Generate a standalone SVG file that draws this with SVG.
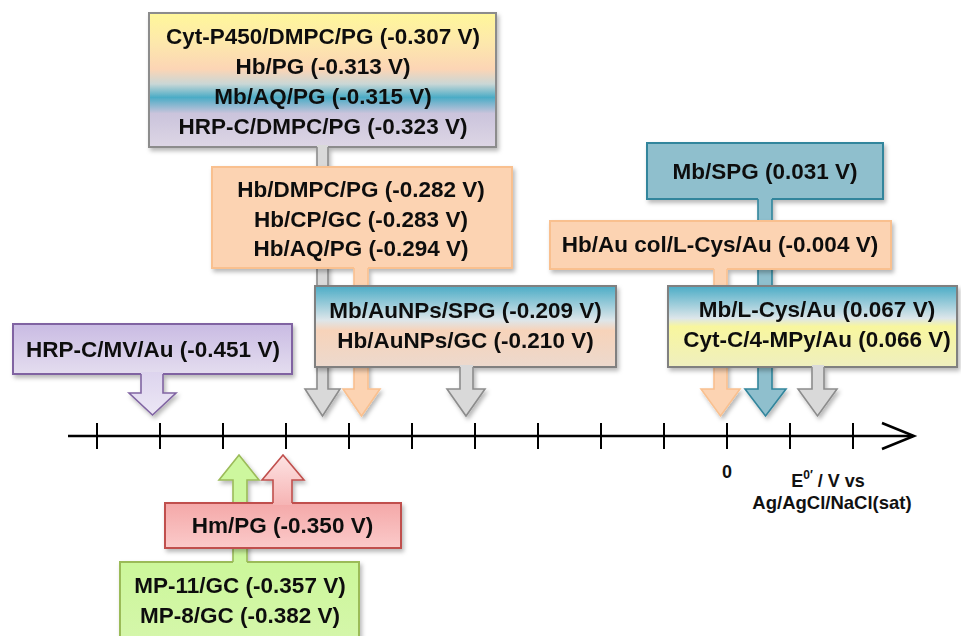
<svg xmlns="http://www.w3.org/2000/svg" width="961" height="636" viewBox="0 0 961 636">
<style>
  .lbl { font-family: "Liberation Sans", Arial, sans-serif; font-weight: bold; font-size: 22.5px; fill: #111; text-anchor: middle; }
  .ax { font-family: "Liberation Sans", Arial, sans-serif; font-weight: bold; fill: #111; text-anchor: middle; }
  .box { stroke-width: 2; }
  .edge { fill: none; stroke-width: 1.6; stroke-linejoin: miter; }
  .gray { fill: #d9d9d9; }
  .grayS { stroke: #8c8c8c; }
  .peach { fill: #fcd3b2; }
  .peachS { stroke: #f9c08f; }
</style>
<defs>
  <filter id="sh" x="-10%" y="-10%" width="125%" height="130%">
    <feDropShadow dx="2" dy="3" stdDeviation="2" flood-color="#000" flood-opacity="0.28"/>
  </filter>
  <linearGradient id="gTop" x1="0" y1="0" x2="0" y2="1">
    <stop offset="0" stop-color="#fff79a"/>
    <stop offset="0.22" stop-color="#fde8ac"/>
    <stop offset="0.42" stop-color="#fcd5b5"/>
    <stop offset="0.53" stop-color="#c9d7d6"/>
    <stop offset="0.63" stop-color="#4bacc6"/>
    <stop offset="0.75" stop-color="#cbc4dc"/>
    <stop offset="1" stop-color="#ddd6e5"/>
  </linearGradient>
  <linearGradient id="gAu" x1="0" y1="0" x2="0" y2="1">
    <stop offset="0" stop-color="#4bacc6"/>
    <stop offset="0.42" stop-color="#dde6ea"/>
    <stop offset="0.55" stop-color="#f7d3ba"/>
    <stop offset="1" stop-color="#ecd9cd"/>
  </linearGradient>
  <linearGradient id="gCys" x1="0" y1="0" x2="0" y2="1">
    <stop offset="0" stop-color="#4bacc6"/>
    <stop offset="0.4" stop-color="#dde6ea"/>
    <stop offset="0.5" stop-color="#f8f69e"/>
    <stop offset="1" stop-color="#efefbf"/>
  </linearGradient>
  <linearGradient id="gPur" x1="0" y1="0" x2="0" y2="1">
    <stop offset="0" stop-color="#c9bbe3"/>
    <stop offset="1" stop-color="#e4ddef"/>
  </linearGradient>
  <linearGradient id="gPurA" x1="0" y1="0" x2="0" y2="1">
    <stop offset="0" stop-color="#ddd4ee"/>
    <stop offset="1" stop-color="#ece7f5"/>
  </linearGradient>
  <linearGradient id="gRed" x1="0" y1="0" x2="0" y2="1">
    <stop offset="0" stop-color="#f4a8a8"/>
    <stop offset="1" stop-color="#fbcaca"/>
  </linearGradient>
  <linearGradient id="gRedA" x1="0" y1="0" x2="0" y2="1">
    <stop offset="0" stop-color="#fde3e3"/>
    <stop offset="1" stop-color="#f6b4b4"/>
  </linearGradient>
  <linearGradient id="gGrn" x1="0" y1="0" x2="0" y2="1">
    <stop offset="0" stop-color="#ccf79a"/>
    <stop offset="1" stop-color="#d6f6ad"/>
  </linearGradient>
</defs>

<g id="axis">
  <line x1="68" y1="436" x2="913" y2="436" stroke="#000" stroke-width="2.5"/>
  <polyline points="882,423 914,436 882,449" fill="none" stroke="#000" stroke-width="2.5"/>
  <g stroke="#000" stroke-width="2">
    <line x1="97" y1="423" x2="97" y2="449"/>
    <line x1="160" y1="423" x2="160" y2="449"/>
    <line x1="223" y1="423" x2="223" y2="449"/>
    <line x1="286" y1="423" x2="286" y2="449"/>
    <line x1="349" y1="423" x2="349" y2="449"/>
    <line x1="412" y1="423" x2="412" y2="449"/>
    <line x1="475" y1="423" x2="475" y2="449"/>
    <line x1="538" y1="423" x2="538" y2="449"/>
    <line x1="601" y1="423" x2="601" y2="449"/>
    <line x1="664" y1="423" x2="664" y2="449"/>
    <line x1="727" y1="423" x2="727" y2="449"/>
    <line x1="790" y1="423" x2="790" y2="449"/>
    <line x1="853" y1="423" x2="853" y2="449"/>
  </g>
  <text class="ax" x="727" y="478" font-size="18">0</text>
  <text class="ax" x="828" y="487" font-size="18">E<tspan font-size="12" dy="-8">0′</tspan><tspan dy="8"> / V vs</tspan></text>
  <text class="ax" x="832" y="509" font-size="18.5">Ag/AgCl/NaCl(sat)</text>
</g>

<g id="node-cytp450" filter="url(#sh)">
  <rect class="box" x="149" y="13" width="347" height="134" fill="url(#gTop)" stroke="#8c8c8c"/>
  <path class="gray" d="M317,145 V389 H305 L322.5,416 L340,389 H328 V145 Z"/>
  <path class="edge grayS" d="M317,147 V389 H305 L322.5,416 L340,389 H328 V147"/>
  <text class="lbl" x="323" y="44">Cyt-P450/DMPC/PG (-0.307 V)</text>
  <text class="lbl" x="323" y="74">Hb/PG (-0.313 V)</text>
  <text class="lbl" x="323" y="104">Mb/AQ/PG (-0.315 V)</text>
  <text class="lbl" x="323" y="134">HRP-C/DMPC/PG (-0.323 V)</text>
</g>

<g id="node-hb-dmpc" filter="url(#sh)">
  <rect class="box peach peachS" x="212" y="167" width="300" height="101"/>
  <path class="peach" d="M354,266 V389 H343 L361.5,416 L380,389 H368 V266 Z"/>
  <path class="edge peachS" d="M354,268 V389 H343 L361.5,416 L380,389 H368 V268"/>
  <text class="lbl" x="361" y="197">Hb/DMPC/PG (-0.282 V)</text>
  <text class="lbl" x="361" y="227">Hb/CP/GC (-0.283 V)</text>
  <text class="lbl" x="361" y="256">Hb/AQ/PG (-0.294 V)</text>
</g>

<g id="node-aunps" filter="url(#sh)">
  <rect class="box" x="315" y="286" width="301" height="81" fill="url(#gAu)" stroke="#808080"/>
  <path class="gray" d="M460,365 V389 H447 L466,416 L485,389 H473 V365 Z"/>
  <path class="edge grayS" d="M460,367 V389 H447 L466,416 L485,389 H473 V367"/>
  <text class="lbl" x="465.5" y="318">Mb/AuNPs/SPG (-0.209 V)</text>
  <text class="lbl" x="465.5" y="348">Hb/AuNPs/GC (-0.210 V)</text>
</g>

<g id="node-mb-spg" filter="url(#sh)">
  <rect class="box" x="647" y="143" width="236" height="56" fill="#8fbfcd" stroke="#31859c"/>
  <path d="M758,197 V389 H745 L765.5,416 L786,389 H772 V197 Z" fill="#8fbfcd"/>
  <path class="edge" stroke="#31859c" d="M758,199 V389 H745 L765.5,416 L786,389 H772 V199"/>
  <text class="lbl" x="765" y="179">Mb/SPG (0.031 V)</text>
</g>

<g id="node-hb-aucol" filter="url(#sh)">
  <rect class="box peach peachS" x="550" y="221" width="341" height="48"/>
  <path class="peach" d="M714,267 V389 H701 L720.5,416 L740,389 H727 V267 Z"/>
  <path class="edge peachS" d="M714,269 V389 H701 L720.5,416 L740,389 H727 V269"/>
  <text class="lbl" x="720" y="252">Hb/Au col/L-Cys/Au (-0.004 V)</text>
</g>

<g id="node-lcys" filter="url(#sh)">
  <rect class="box" x="668" y="286" width="289" height="81" fill="url(#gCys)" stroke="#808080"/>
  <path class="gray" d="M812,365 V389 H798 L817.5,416 L837,389 H824 V365 Z"/>
  <path class="edge grayS" d="M812,367 V389 H798 L817.5,416 L837,389 H824 V367"/>
  <text class="lbl" x="817" y="317">Mb/L-Cys/Au (0.067 V)</text>
  <text class="lbl" x="817" y="347">Cyt-C/4-MPy/Au (0.066 V)</text>
</g>

<g id="node-hrp-mv" filter="url(#sh)">
  <rect class="box" x="13" y="324" width="279" height="50" fill="url(#gPur)" stroke="#8064a2"/>
  <path d="M141,372 V393 H129 L152.5,415 L176,393 H163 V372 Z" fill="url(#gPurA)"/>
  <path class="edge" stroke="#8064a2" d="M141,374 V393 H129 L152.5,415 L176,393 H163 V374"/>
  <text class="lbl" x="153" y="357">HRP-C/MV/Au (-0.451 V)</text>
</g>

<g id="node-mp" filter="url(#sh)">
  <rect class="box" x="120" y="562" width="239" height="90" fill="url(#gGrn)" stroke="#9bbb59"/>
  <path d="M233,564 V480 H219 L239,455 L259,480 H247 V564 Z" fill="#cdf79e"/>
  <path class="edge" stroke="#9bbb59" d="M233,562 V480 H219 L239,455 L259,480 H247 V562"/>
  <text class="lbl" x="240" y="593">MP-11/GC (-0.357 V)</text>
  <text class="lbl" x="240" y="623">MP-8/GC (-0.382 V)</text>
</g>

<g id="node-hm" filter="url(#sh)">
  <rect class="box" x="165" y="503" width="236" height="45" fill="url(#gRed)" stroke="#c0504d"/>
  <path d="M273,505 V480 H262 L283,455 L304,480 H292 V505 Z" fill="url(#gRedA)"/>
  <path class="edge" stroke="#c0504d" d="M273,503 V480 H262 L283,455 L304,480 H292 V503"/>
  <text class="lbl" x="282.5" y="533">Hm/PG (-0.350 V)</text>
</g>
</svg>
